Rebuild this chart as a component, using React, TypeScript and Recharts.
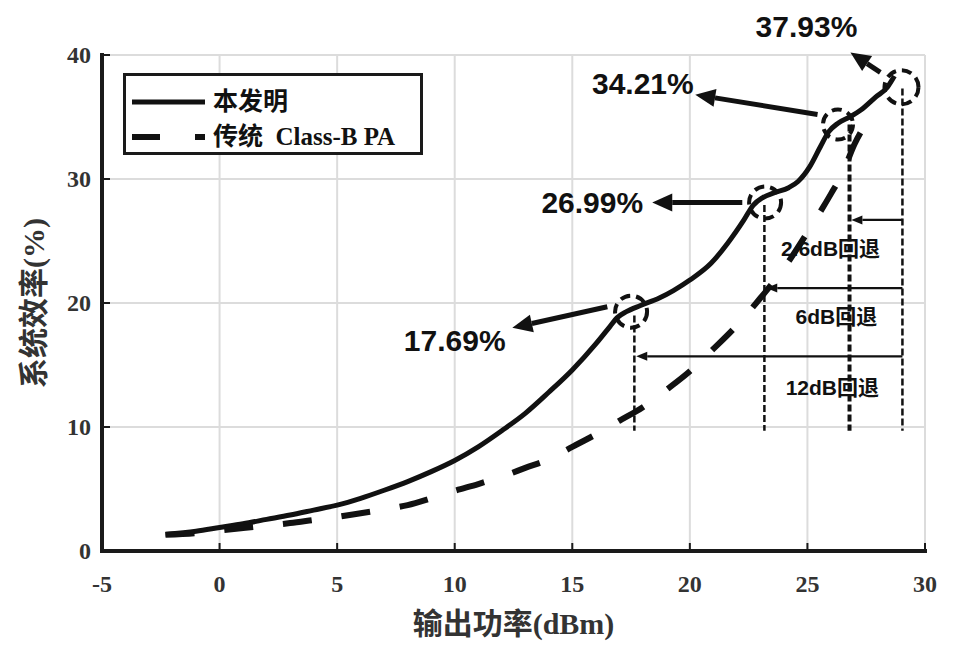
import {
  LineChart,
  Line,
  XAxis,
  YAxis,
  CartesianGrid,
  ReferenceLine,
  ReferenceDot,
  Legend,
} from 'recharts';

const X_TICKS = [-5, 0, 5, 10, 15, 20, 25, 30];
const Y_TICKS = [0, 10, 20, 30, 40];

// 本发明 (proposed PA) efficiency curve
const inventionX = [-2.3, -1, 0, 1, 2, 3, 4, 5, 6, 7, 8, 9, 10, 11, 12, 13, 14, 15, 16, 16.6, 16.9, 17.3, 17.9, 18.7, 19.3, 20, 20.9, 21.6, 22.3, 22.7, 23.1, 23.6, 24.2, 24.6, 25.1, 25.55, 25.9, 26.3, 26.8, 27.3, 27.9, 28.4, 28.7];
const inventionY = [1.35, 1.6, 1.9, 2.2, 2.55, 2.9, 3.3, 3.7, 4.25, 4.9, 5.6, 6.4, 7.3, 8.4, 9.7, 11.1, 12.8, 14.6, 16.7, 18.1, 18.8, 19.3, 19.8, 20.4, 21.0, 21.85, 23.2, 24.8, 26.7, 27.9, 28.5, 28.9, 29.3, 29.8, 31.0, 32.6, 33.8, 34.5, 35.0, 35.6, 36.6, 37.4, 38.3];

// 传统 Class-B PA efficiency curve
const classBX = [-2.3, -1, 0, 1, 2, 3, 4, 5, 6, 7, 8, 9, 10, 11, 12, 13, 14, 15, 16, 17, 18, 19, 20, 21, 22, 23, 24, 25, 26, 26.5, 27, 27.6];
const classBY = [1.3, 1.45, 1.65, 1.85, 2.05, 2.25, 2.5, 2.75, 3.05, 3.35, 3.7, 4.25, 4.85, 5.4, 6.0, 6.7, 7.4, 8.4, 9.4, 10.5, 11.6, 13.0, 14.5, 16.3, 18.2, 20.4, 22.8, 25.7, 28.8, 30.5, 32.8, 34.8];

// circled efficiency points with their call-outs
const peakLabels = ['17.69%', '26.99%', '34.21%', '37.93%'];
const peakX = [17.5, 23.2, 26.3, 29.0];
const peakY = [19.3, 28.1, 34.4, 37.4];
const peakRadius = [16, 16, 15, 17];
const peakLabelX = [10.0, 15.85, 18.0, 24.96];
const peakLabelY = [17.0, 28.1, 37.7, 42.3];
const peakArrowFromX = [16.49, 22.23, 25.43, 28.1];
const peakArrowFromY = [19.7, 28.1, 35.2, 38.6];
const peakArrowToX = [12.45, 18.4, 20.23, 26.83];
const peakArrowToY = [18.0, 28.1, 36.8, 40.2];

// back-off markers
const markerX = [17.64, 23.17, 26.79, 29.04];
const markerTopY = [19.0, 27.9, 34.4, 37.3];
const markerWidth = [2.5, 2.5, 4, 2.5];
const markerBottomY = 9.7;
const backoffLabels = ['12dB回退', '6dB回退', '2.6dB回退'];
const backoffArrowY = [15.7, 21.2, 26.7];
const backoffLabelX = [26.06, 26.23, 25.98];
const backoffLabelY = [13.2, 18.9, 24.4];

const inventionData = inventionX.map((x, i) => ({ x, y: inventionY[i] }));
const classBData = classBX.map((x, i) => ({ x, y: classBY[i] }));

const SERIF = '"Liberation Serif", "Noto Sans CJK SC", serif';
const SANS = '"Liberation Sans", "Noto Sans CJK SC", sans-serif';
const INK = '#111';
const AXIS = '#1a1a1a';

function arrowShape(width: number, headLen: number, headHalf: number) {
  return (p: any) => {
    const { x1, y1, x2, y2 } = p;
    const dx = x2 - x1;
    const dy = y2 - y1;
    const len = Math.hypot(dx, dy) || 1;
    const ux = dx / len;
    const uy = dy / len;
    const bx = x2 - ux * headLen;
    const by = y2 - uy * headLen;
    const nx = -uy;
    const ny = ux;
    return (
      <g>
        <line x1={x1} y1={y1} x2={bx} y2={by} stroke={INK} strokeWidth={width} />
        <polygon
          points={`${x2},${y2} ${bx + nx * headHalf},${by + ny * headHalf} ${bx - nx * headHalf},${by - ny * headHalf}`}
          fill={INK}
        />
      </g>
    );
  };
}

function textShape(text: string, size: number, family: string, weight: string) {
  return (p: any) => (
    <text
      x={p.cx}
      y={p.cy}
      textAnchor="middle"
      dominantBaseline="central"
      fontSize={size}
      fontFamily={family}
      fontWeight={weight}
      fill={INK}
    >
      {text}
    </text>
  );
}

const tickText = { fontSize: 24, fontFamily: SERIF, fontWeight: 'bold', fill: '#333' } as const;

function BottomTick(p: any) {
  return (
    <g>
      <line x1={p.x} y1={p.y} x2={p.x} y2={p.y - 8} stroke={AXIS} strokeWidth={2} />
      <text x={p.x} y={p.y + 41} textAnchor="middle" {...tickText}>
        {p.payload.value}
      </text>
    </g>
  );
}

function TopTick(p: any) {
  return <line x1={p.x} y1={p.y} x2={p.x} y2={p.y + 8} stroke={AXIS} strokeWidth={2} />;
}

function LeftTick(p: any) {
  return (
    <g>
      <line x1={p.x} y1={p.y} x2={p.x + 8} y2={p.y} stroke={AXIS} strokeWidth={2} />
      <text x={p.x - 11} y={p.y} textAnchor="end" dominantBaseline="central" {...tickText}>
        {p.payload.value}
      </text>
    </g>
  );
}

function RightTick(p: any) {
  return <line x1={p.x} y1={p.y} x2={p.x - 8} y2={p.y} stroke={AXIS} strokeWidth={2} />;
}

function LegendBox() {
  const row: React.CSSProperties = {
    position: 'absolute',
    left: 87,
    height: 30,
    lineHeight: '30px',
    whiteSpace: 'pre',
  };
  return (
    <div
      style={{
        position: 'relative',
        width: 300,
        height: 82,
        boxSizing: 'border-box',
        border: `3px solid ${AXIS}`,
        background: '#fff',
        fontFamily: SERIF,
        fontWeight: 'bold',
        fontSize: 25,
        color: INK,
      }}
    >
      <svg width={90} height={82} style={{ position: 'absolute', left: -3, top: -3 }}>
        <line x1={9} y1={29} x2={82} y2={29} stroke={INK} strokeWidth={5} />
        <line x1={9} y1={64} x2={82} y2={64} stroke={INK} strokeWidth={6} strokeDasharray="28 35" />
      </svg>
      <div style={{ ...row, top: 11 }}>本发明</div>
      <div style={{ ...row, top: 46 }}>传统  Class-B PA</div>
    </div>
  );
}

export default function App() {
  return (
    <LineChart width={938} height={638} margin={{ top: 47, right: 21, bottom: 0, left: 0 }}>
      <CartesianGrid stroke="#dcdcdc" strokeWidth={2} />
      <XAxis
        type="number"
        dataKey="x"
        domain={[-5, 30]}
        ticks={X_TICKS}
        allowDataOverflow
        height={95}
        tickSize={0}
        tickMargin={0}
        tickLine={false}
        tick={<BottomTick />}
        axisLine={{ stroke: AXIS, strokeWidth: 4, strokeLinecap: 'square' }}
        label={{
          content: (p: any) => (
            <text
              x={p.viewBox.x + p.viewBox.width / 2}
              y={p.viewBox.y + 83}
              textAnchor="middle"
              fontSize={30}
              fontFamily={SERIF}
              fontWeight="bold"
              fill="#333"
            >
              输出功率(dBm)
            </text>
          ),
        }}
      />
      <XAxis
        xAxisId="top"
        orientation="top"
        type="number"
        domain={[-5, 30]}
        ticks={X_TICKS}
        allowDataOverflow
        height={0}
        tickSize={0}
        tickMargin={0}
        tickLine={false}
        tick={<TopTick />}
        axisLine={{ stroke: AXIS, strokeWidth: 3, strokeLinecap: 'square' }}
      />
      <YAxis
        type="number"
        domain={[0, 40]}
        ticks={Y_TICKS}
        allowDataOverflow
        width={94}
        tickSize={0}
        tickMargin={0}
        tickLine={false}
        tick={<LeftTick />}
        axisLine={{ stroke: AXIS, strokeWidth: 4, strokeLinecap: 'square' }}
        label={{
          content: (p: any) => {
            const cx = p.viewBox.x + p.viewBox.width - 69;
            const cy = p.viewBox.y + p.viewBox.height / 2;
            return (
              <text
                x={cx}
                y={cy}
                transform={`rotate(-90 ${cx} ${cy})`}
                textAnchor="middle"
                dominantBaseline="central"
                fontSize={30}
                fontFamily={SERIF}
                fontWeight="bold"
                fill="#333"
              >
                系统效率(%)
              </text>
            );
          },
        }}
      />
      <YAxis
        yAxisId="right"
        orientation="right"
        type="number"
        domain={[0, 40]}
        ticks={Y_TICKS}
        allowDataOverflow
        width={0}
        tickSize={0}
        tickMargin={0}
        tickLine={false}
        tick={<RightTick />}
        axisLine={{ stroke: AXIS, strokeWidth: 4, strokeLinecap: 'square' }}
      />

      <Line
        data={inventionData}
        dataKey="y"
        type="monotone"
        stroke={INK}
        strokeWidth={5}
        dot={false}
        isAnimationActive={false}
        name="本发明"
      />
      <Line
        data={classBData}
        dataKey="y"
        type="monotone"
        stroke={INK}
        strokeWidth={6}
        strokeDasharray="29 30"
        dot={false}
        isAnimationActive={false}
        name="传统 Class-B PA"
      />

      {markerX.map((x, i) => (
        <ReferenceLine
          key={`v-${i}`}
          segment={[
            { x, y: markerTopY[i] },
            { x, y: markerBottomY },
          ]}
          stroke={INK}
          strokeWidth={markerWidth[i]}
          strokeDasharray="7 3"
          ifOverflow="visible"
        />
      ))}
      {backoffArrowY.map((y, i) => (
        <ReferenceLine
          key={`h-${i}`}
          segment={[
            { x: markerX[3], y },
            { x: markerX[i] + 0.08, y },
          ]}
          ifOverflow="visible"
          shape={arrowShape(2.2, 11, 4.5)}
        />
      ))}
      {backoffLabels.map((t, i) => (
        <ReferenceDot
          key={`bl-${i}`}
          x={backoffLabelX[i]}
          y={backoffLabelY[i]}
          r={0}
          ifOverflow="visible"
          shape={textShape(t, 21, SANS, 'bold')}
        />
      ))}

      {peakX.map((x, i) => (
        <ReferenceDot
          key={`c-${i}`}
          x={x}
          y={peakY[i]}
          r={peakRadius[i]}
          ifOverflow="visible"
          shape={(p: any) => (
            <circle
              cx={p.cx}
              cy={p.cy}
              r={peakRadius[i]}
              fill="none"
              stroke={INK}
              strokeWidth={4}
              strokeDasharray="10 6"
            />
          )}
        />
      ))}
      {peakArrowFromX.map((x, i) => (
        <ReferenceLine
          key={`a-${i}`}
          segment={[
            { x, y: peakArrowFromY[i] },
            { x: peakArrowToX[i], y: peakArrowToY[i] },
          ]}
          ifOverflow="visible"
          shape={arrowShape(5, 20, 9)}
        />
      ))}
      {peakLabels.map((t, i) => (
        <ReferenceDot
          key={`pl-${i}`}
          x={peakLabelX[i]}
          y={peakLabelY[i]}
          r={0}
          ifOverflow="visible"
          shape={textShape(t, 30, SANS, 'bold')}
        />
      ))}

      <Legend
        layout="horizontal"
        verticalAlign="middle"
        align="center"
        content={() => <LegendBox />}
        wrapperStyle={{ left: 115, top: 65, width: 300, height: 82 }}
      />
    </LineChart>
  );
}
